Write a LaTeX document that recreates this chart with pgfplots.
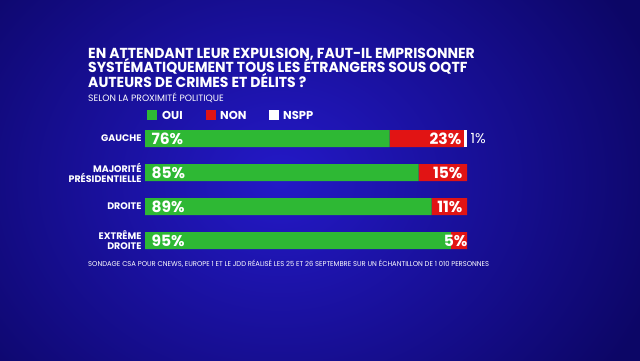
\documentclass[border=0pt]{standalone}
\usepackage{pgfplots}
\pgfplotsset{compat=1.18}
\usepackage{fontspec}
\setmainfont{Poppins}
\definecolor{bgin}{HTML}{2419C8}
\definecolor{bgout}{HTML}{0C0666}
\definecolor{oui}{HTML}{2EB834}
\definecolor{non}{HTML}{E11414}
\begin{document}
\begin{tikzpicture}[x=1pt,y=1pt]
\begin{scope}
\clip (0,0) rectangle (640,360);
\shade[inner color=bgin, outer color=bgout] (-120,-150) rectangle (680,510);
\end{scope}
\path[use as bounding box] (0,0) rectangle (640,360);
\begin{scope}[every node/.style={anchor=base west, inner sep=0pt, text=white}]
\node[font=\bfseries\fontsize{14.5}{15}\selectfont] at (88,302) {\scalebox{0.966}[1]{EN ATTENDANT LEUR EXPULSION, FAUT-IL EMPRISONNER}};
\node[font=\bfseries\fontsize{14.5}{15}\selectfont] at (88,287.5) {\scalebox{0.966}[1]{SYSTÉMATIQUEMENT TOUS LES ÉTRANGERS SOUS OQTF}};
\node[font=\bfseries\fontsize{14.5}{15}\selectfont] at (88,273) {\scalebox{0.966}[1]{AUTEURS DE CRIMES ET DÉLITS ?}};
\node[font=\fontsize{9.2}{10}\selectfont] at (88,259) {\scalebox{1.0}[1]{SELON LA PROXIMITÉ POLITIQUE}};
\node[font=\fontsize{7}{8}\selectfont] at (88,94) {\scalebox{0.97}[1]{SONDAGE CSA POUR CNEWS, EUROPE 1 ET LE JDD RÉALISÉ LES 25 ET 26 SEPTEMBRE SUR UN ÉCHANTILLON DE 1 010 PERSONNES}};
\fill[oui] (147,240) rectangle (157,250);
\node[font=\bfseries\fontsize{11.5}{12}\selectfont] at (162,241) {OUI};
\fill[non] (206,240) rectangle (216,250);
\node[font=\bfseries\fontsize{11.5}{12}\selectfont] at (220,241) {NON};
\fill[white] (269,240) rectangle (279,250);
\node[font=\bfseries\fontsize{11.5}{12}\selectfont] at (283,241) {NSPP};
\end{scope}
\begin{axis}[at={(145pt,238.5pt)}, anchor=north west, scale only axis,
  width=322pt, height=136pt, xmin=0, xmax=100, ymin=-0.5, ymax=3.5,
  y dir=reverse, xbar stacked, bar width=17pt,
  axis line style={draw=none}, xtick=\empty, ytick={0,1,2,3},
  yticklabels={GAUCHE,{MAJORITÉ\\PRÉSIDENTIELLE},DROITE,{EXTRÊME\\DROITE}},
  major tick length=0pt,
  yticklabel style={font=\bfseries\fontsize{9.5}{10}\selectfont, text=white, align=right},
  clip=false]
\addplot[fill=oui, draw=none] coordinates {(76,0) (85,1) (89,2) (95,3)};
\addplot[fill=non, draw=none] coordinates {(23,0) (15,1) (11,2) (5,3)};
\addplot[fill=white, draw=none] coordinates {(1,0) (0,1) (0,2) (0,3)};
\coordinate (g0) at (axis cs:0,0);
\coordinate (g1) at (axis cs:0,1);
\coordinate (g2) at (axis cs:0,2);
\coordinate (g3) at (axis cs:0,3);
\coordinate (r0) at (axis cs:99,0);
\coordinate (r1) at (axis cs:100,1);
\coordinate (r2) at (axis cs:100,2);
\coordinate (r3) at (axis cs:100,3);
\coordinate (w0) at (axis cs:100,0);
\end{axis}
\begin{scope}[every node/.style={text=white, font=\bfseries\fontsize{15.5}{16}\selectfont}]
\node[anchor=west, xshift=3pt] at (g0) {76\%};
\node[anchor=west, xshift=3pt] at (g1) {85\%};
\node[anchor=west, xshift=3pt] at (g2) {89\%};
\node[anchor=west, xshift=3pt] at (g3) {95\%};
\node[anchor=east, xshift=1pt] at (r0) {23\%};
\node[anchor=east, xshift=-1pt] at (r1) {15\%};
\node[anchor=east, xshift=-1pt] at (r2) {11\%};
\node[anchor=east, xshift=4pt] at (r3) {5\%};
\node[anchor=west, font=\fontsize{14}{15}\selectfont, xshift=0pt] at (w0) {1\%};
\end{scope}
\end{tikzpicture}
\end{document}
